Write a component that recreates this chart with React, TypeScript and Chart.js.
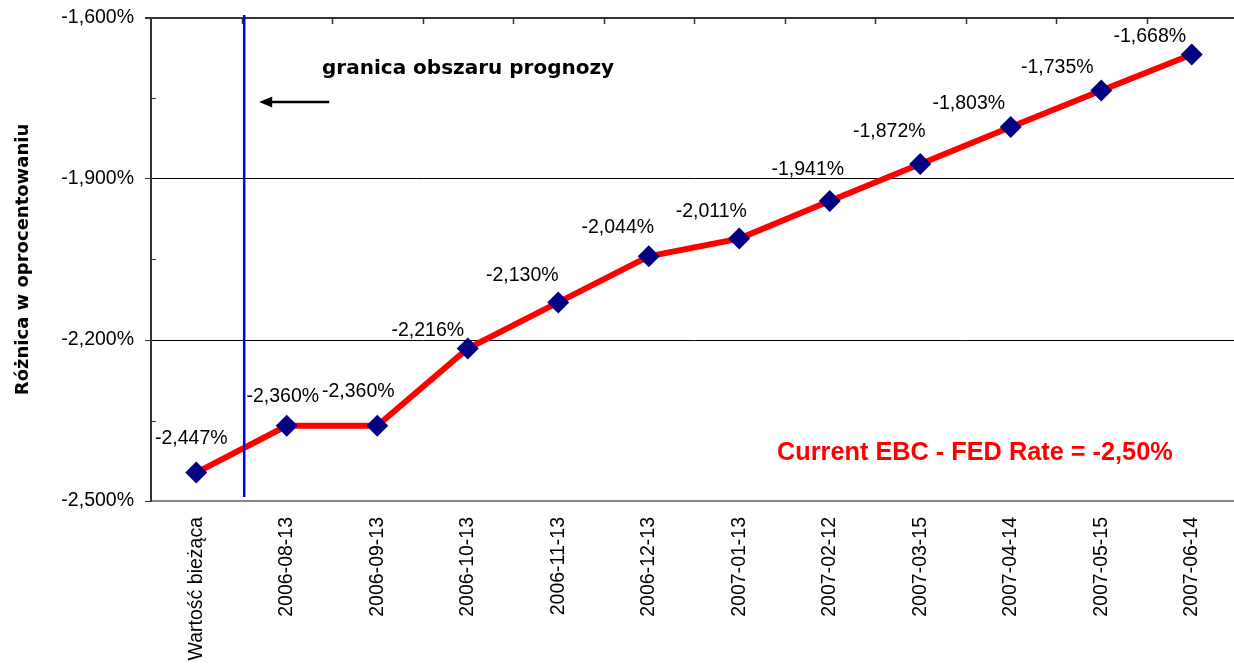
import React, { useEffect, useRef } from "react";
import { Chart, registerables } from "chart.js";

Chart.register(...registerables);

const categories = [
  "Wartość bieżąca",
  "2006-08-13",
  "2006-09-13",
  "2006-10-13",
  "2006-11-13",
  "2006-12-13",
  "2007-01-13",
  "2007-02-12",
  "2007-03-15",
  "2007-04-14",
  "2007-05-15",
  "2007-06-14",
];

const rateDiff = [
  -2.447, -2.36, -2.36, -2.216, -2.13, -2.044, -2.011, -1.941, -1.872, -1.803,
  -1.735, -1.668,
];

const yTicks = [-2.5, -2.2, -1.9, -1.6];

// label nudges (pixels) relative to each point, as placed in the original
const labelNudgeX = [-5, -4, -19, -40, -36, -31, -28, -22, -31, -42, -44, -42];
const labelNudgeY = [-34, -29, -34, -18, -27, -29, -27, -31, -32, -23, -23, -18];

const forecastBoundary = 0.53; // category index position of the forecast border
const yTitle = "Różnica w oprocentowaniu";
const boundaryText = "granica obszaru prognozy";
const currentRateText = "Current EBC - FED Rate = -2,50%";

const fmt = (v: number) => v.toFixed(3).replace(".", ",") + "%";

const ARIAL = "'Liberation Sans', Arial, sans-serif";
const VERDANA = "'DejaVu Sans', Verdana, sans-serif";

const decorations = {
  id: "decorations",
  afterDraw(chart: any) {
    const { ctx, chartArea, scales } = chart;
    const xs = scales.x;
    const ys = scales.y;
    ctx.save();

    // top tick marks at category boundaries
    ctx.strokeStyle = "#333";
    ctx.lineWidth = 1.5;
    for (let i = 0; i < categories.length - 1; i++) {
      const x = Math.round(xs.getPixelForValue(i + 0.5)) + 0.5;
      ctx.beginPath();
      ctx.moveTo(x, chartArea.top);
      ctx.lineTo(x, chartArea.top + 6);
      ctx.stroke();
    }
    // minor inner ticks on value axis
    ctx.lineWidth = 1;
    for (let i = 0; i < yTicks.length - 1; i++) {
      const y = Math.round(ys.getPixelForValue((yTicks[i] + yTicks[i + 1]) / 2)) + 0.5;
      ctx.beginPath();
      ctx.moveTo(chartArea.left, y);
      ctx.lineTo(chartArea.left + 5, y);
      ctx.stroke();
    }

    // forecast border line
    const bx = xs.getPixelForValue(forecastBoundary);
    ctx.strokeStyle = "#0000FF";
    ctx.lineWidth = 2.5;
    ctx.beginPath();
    ctx.moveTo(bx, chartArea.top - 3);
    ctx.lineTo(bx, chartArea.bottom - 4);
    ctx.stroke();

    // arrow
    const ay = chartArea.top + 84;
    const ax0 = bx + 15;
    const ax1 = bx + 85;
    ctx.strokeStyle = "#000";
    ctx.fillStyle = "#000";
    ctx.lineWidth = 2.5;
    ctx.beginPath();
    ctx.moveTo(ax1, ay);
    ctx.lineTo(ax0 + 8, ay);
    ctx.stroke();
    ctx.beginPath();
    ctx.moveTo(ax0, ay);
    ctx.lineTo(ax0 + 13, ay - 5.5);
    ctx.lineTo(ax0 + 13, ay + 5.5);
    ctx.closePath();
    ctx.fill();

    // annotation text
    ctx.font = `bold 20px ${VERDANA}`;
    ctx.textAlign = "left";
    ctx.textBaseline = "alphabetic";
    ctx.fillText(boundaryText, 322, 74);

    ctx.fillStyle = "#FF0000";
    ctx.font = `bold 25.3px ${ARIAL}`;
    ctx.fillText(currentRateText, 777, 460);

    // data labels
    ctx.fillStyle = "#000";
    ctx.font = `19.5px ${ARIAL}`;
    ctx.textAlign = "center";
    ctx.textBaseline = "middle";
    rateDiff.forEach((v, i) => {
      const px = xs.getPixelForValue(i);
      const py = ys.getPixelForValue(v);
      ctx.fillText(fmt(v), px + labelNudgeX[i], py + labelNudgeY[i]);
    });

    ctx.restore();
  },
};

export default function App() {
  const canvasRef = useRef<HTMLCanvasElement | null>(null);

  useEffect(() => {
    if (!canvasRef.current) return;
    const chart = new Chart(canvasRef.current, {
      type: "line",
      data: {
        labels: categories,
        datasets: [
          {
            data: rateDiff,
            borderColor: "#FF0000",
            borderWidth: 6,
            pointStyle: "rectRot",
            pointRadius: 11,
            pointBackgroundColor: "#000080",
            pointBorderColor: "#000080",
            pointBorderWidth: 0,
            tension: 0,
            fill: false,
          },
        ],
      },
      options: {
        responsive: false,
        animation: false,
        devicePixelRatio: 1,
        layout: { padding: { top: 18, right: 0, bottom: 3, left: 0 } },
        plugins: {
          legend: { display: false },
          tooltip: { enabled: false },
        },
        scales: {
          x: {
            type: "category",
            offset: true,
            afterFit: (scale: any) => {
              scale.height = 160;
            },
            grid: { display: false, drawTicks: false },
            border: { display: true, color: "#888", width: 2 },
            ticks: {
              color: "#000",
              font: { family: ARIAL, size: 19.5 },
              minRotation: 90,
              maxRotation: 90,
              padding: 16,
              autoSkip: false,
            },
          },
          y: {
            min: -2.5,
            max: -1.6,
            afterBuildTicks: (scale: any) => {
              scale.ticks = yTicks.map((v) => ({ value: v }));
            },
            afterFit: (scale: any) => {
              scale.width = 151;
              scale.paddingTop = 0;
              scale.paddingBottom = 0;
            },
            grid: {
              color: (c: any) => (c.tick && c.tick.value === -1.6 ? "#333" : "#000"),
              lineWidth: (c: any) => (c.tick && c.tick.value === -1.6 ? 2 : 1),
              tickColor: "#333",
              tickLength: 6,
              drawTicks: true,
            },
            border: { display: true, color: "#333", width: 2 },
            ticks: {
              color: "#000",
              font: { family: ARIAL, size: 19.5 },
              padding: 11,
              callback: (v: any) => fmt(Number(v)),
            },
            title: {
              display: true,
              text: yTitle,
              color: "#000",
              font: { family: VERDANA, size: 18, weight: "bold" },
              padding: { top: 13, bottom: 0 },
            },
          },
        },
      },
      plugins: [decorations],
    });
    return () => chart.destroy();
  }, []);

  return (
    <div
      style={{
        position: "fixed",
        left: 0,
        top: 0,
        width: 1234,
        height: 664,
        overflow: "hidden",
        background: "#fff",
      }}
    >
      <canvas ref={canvasRef} width={1248} height={664} style={{ display: "block" }} />
    </div>
  );
}
